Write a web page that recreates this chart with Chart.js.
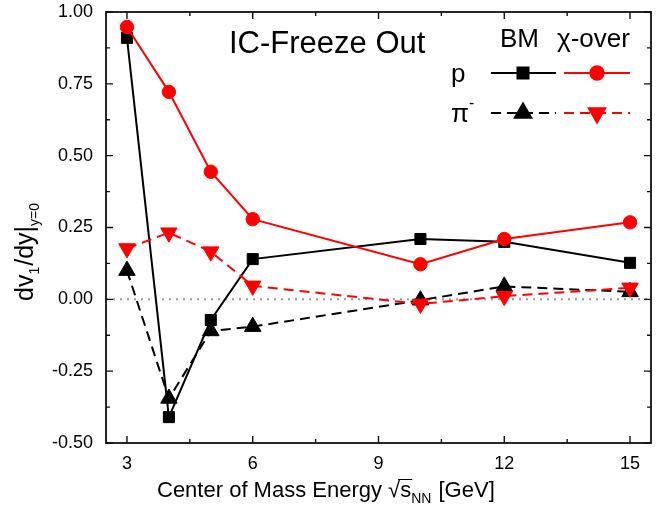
<!DOCTYPE html>
<html>
<head>
<meta charset="utf-8">
<script src="https://cdn.jsdelivr.net/npm/chart.js@4.4.0/dist/chart.umd.min.js"></script>
<style>
html, body { margin: 0; padding: 0; background: #fff; }
</style>
</head>
<body>
<canvas id="chart" width="672" height="515"></canvas>
<script>
// ---- data ----
const energies = [3, 4, 5, 6, 10, 12, 15];
const bmProton = [0.91, -0.41, -0.072, 0.14, 0.21, 0.20, 0.127];
const xoProton = [0.948, 0.722, 0.444, 0.279, 0.122, 0.21, 0.268];
const bmPion = [0.10, -0.345, -0.11, -0.095, -0.003, 0.045, 0.026];
const xoPion = [0.177, 0.232, 0.166, 0.047, -0.016, 0.011, 0.04];
const xTicks = [3, 6, 9, 12, 15];
const yTicks = [-0.5, -0.25, 0, 0.25, 0.5, 0.75, 1.0];

const FONT = "'Liberation Sans', Arial, sans-serif";
const RED = '#ff0000';
const DASH = [10, 6];

function pts(ys) {
  return energies.map((x, i) => ({ x: x, y: ys[i] }));
}

// draws pieces of text: [text, size, dy, extraGap]
function richText(ctx, parts, x, y) {
  let cx = x;
  parts.forEach(p => {
    ctx.font = p[1] + 'px ' + FONT;
    ctx.fillText(p[0], cx, y + (p[2] || 0));
    cx += ctx.measureText(p[0]).width + (p[3] || 0);
  });
  return cx;
}

/* =============================== */
/* frame, inward ticks, zero line */
/* =============================== */
const framePlugin = {
  id: 'frame',
  beforeDatasetsDraw(chart) {
    const { ctx, chartArea: a, scales } = chart;
    const y0 = scales.y.getPixelForValue(0);
    ctx.save();
    ctx.strokeStyle = '#999';
    ctx.lineWidth = 2;
    ctx.setLineDash([2, 5]);
    ctx.beginPath();
    ctx.moveTo(a.left, y0);
    ctx.lineTo(a.right, y0);
    ctx.stroke();
    ctx.restore();
  },
  afterDatasetsDraw(chart) {
    const { ctx, chartArea: a, scales } = chart;
    ctx.save();
    ctx.strokeStyle = '#111';
    ctx.lineWidth = 1.8;
    ctx.strokeRect(a.left, a.top, a.right - a.left, a.bottom - a.top);
    ctx.lineWidth = 1.4;
    ctx.beginPath();
    for (let v = 3; v <= 15; v += 1.5) {
      const px = scales.x.getPixelForValue(v);
      const len = (v % 3 === 0) ? 7 : 4;
      ctx.moveTo(px, a.bottom); ctx.lineTo(px, a.bottom - len);
      ctx.moveTo(px, a.top); ctx.lineTo(px, a.top + len);
    }
    for (let v = -0.5; v <= 1.0001; v += 0.125) {
      const py = scales.y.getPixelForValue(v);
      const major = Math.abs(v * 4 - Math.round(v * 4)) < 1e-6;
      const len = major ? 7 : 4;
      ctx.moveTo(a.left, py); ctx.lineTo(a.left + len, py);
      ctx.moveTo(a.right, py); ctx.lineTo(a.right - len, py);
    }
    ctx.stroke();

    // tick labels
    ctx.fillStyle = '#000';
    ctx.font = '18px ' + FONT;
    ctx.textAlign = 'center';
    ctx.textBaseline = 'middle';
    xTicks.forEach(v => ctx.fillText(String(v), scales.x.getPixelForValue(v), a.bottom + 21));
    ctx.textAlign = 'right';
    yTicks.forEach(v => ctx.fillText(v.toFixed(2), a.left - 13, scales.y.getPixelForValue(v)));
    ctx.restore();
  },
  afterDraw(chart) {
    const { ctx } = chart;
    ctx.save();
    ctx.fillStyle = '#000';
    ctx.textAlign = 'left';
    ctx.textBaseline = 'alphabetic';

    // inside labels
    ctx.font = '31px ' + FONT;
    ctx.fillText('IC-Freeze Out', 229, 53);
    ctx.font = '26px ' + FONT;
    ctx.fillText('BM', 500, 47);
    ctx.fillText('\u03c7-over', 557, 47);
    ctx.fillText('p', 451, 82);
    richText(ctx, [['\u03c0', 26, 0], ['-', 16, -14]], 451, 122);

    // legend samples
    const H = Chart.helpers;
    const rows = [
      { y: 73, dash: [], black: { pointStyle: 'rect', radius: 7.8, rotation: 0 }, red: { pointStyle: 'circle', radius: 6.7, rotation: 0 } },
      { y: 113, dash: DASH, black: { pointStyle: 'triangle', radius: 9.5, rotation: 0 }, red: { pointStyle: 'triangle', radius: 9.5, rotation: 180 } }
    ];
    rows.forEach(r => {
      [[491, 556, 523, '#000', r.black], [564, 630, 597, RED, r.red]].forEach(s => {
        ctx.strokeStyle = s[3];
        ctx.fillStyle = s[3];
        ctx.lineWidth = 2;
        ctx.setLineDash(r.dash);
        ctx.beginPath();
        ctx.moveTo(s[0], r.y);
        ctx.lineTo(s[1], r.y);
        ctx.stroke();
        ctx.setLineDash([]);
        H.drawPoint(ctx, Object.assign({ borderWidth: 1 }, s[4]), s[2], r.y);
      });
    });

    // x axis title
    ctx.fillStyle = '#000';
    ctx.strokeStyle = '#000';
    let cx = richText(ctx, [['Center of Mass Energy ', 22, 0], ['\u221a', 22, 0]], 157, 497);
    ctx.font = '22px ' + FONT;
    const sw = ctx.measureText('s').width;
    ctx.lineWidth = 1;
    ctx.beginPath();
    ctx.moveTo(cx - 2, 479.5);
    ctx.lineTo(cx + sw + 1, 479.5);
    ctx.stroke();
    richText(ctx, [['s', 22, 0], ['NN', 14, 6, 1], [' [GeV]', 22, 0]], cx, 497);

    // y axis title
    ctx.translate(33, 301);
    ctx.rotate(-Math.PI / 2);
    richText(ctx, [['dv', 25, 0], ['1', 14, 6, 1], ['/dy|', 25, 0], ['y=0', 14, 6]], 0, 0);
    ctx.restore();
  }
};

const lineDs = (label, ys, color, dash, style, radius, rotation) => ({
  label: label,
  data: pts(ys),
  borderColor: color,
  backgroundColor: color,
  borderWidth: 2,
  borderDash: dash,
  pointStyle: style,
  pointRadius: radius,
  pointRotation: rotation,
  pointBorderWidth: 1,
  pointBackgroundColor: color,
  pointBorderColor: color,
  tension: 0
});

new Chart(document.getElementById('chart'), {
  type: 'line',
  data: {
    datasets: [
      lineDs('\u03c7-over p', xoProton, RED, [], 'circle', 6.7, 0),
      lineDs('\u03c7-over \u03c0-', xoPion, RED, DASH, 'triangle', 9.5, 180),
      lineDs('BM p', bmProton, '#000', [], 'rect', 7.8, 0),
      lineDs('BM \u03c0-', bmPion, '#000', DASH, 'triangle', 9.5, 0)
    ]
  },
  options: {
    responsive: false,
    animation: false,
    clip: false,
    layout: { padding: { left: 0, right: 21, top: 12, bottom: 0 } },
    plugins: { legend: { display: false }, tooltip: { enabled: false } },
    scales: {
      x: {
        type: 'linear',
        min: 2.5,
        max: 15.5,
        grid: { display: false },
        border: { display: false },
        afterBuildTicks: s => { s.ticks = xTicks.map(v => ({ value: v })); },
        afterFit: s => { s.height = 72; },
        ticks: { display: false }
      },
      y: {
        min: -0.5,
        max: 1.0,
        grid: { display: false },
        border: { display: false },
        afterBuildTicks: s => { s.ticks = yTicks.map(v => ({ value: v })); },
        afterFit: s => { s.width = 106; },
        ticks: { display: false }
      }
    }
  },
  plugins: [framePlugin]
});
</script>
</body>
</html>
